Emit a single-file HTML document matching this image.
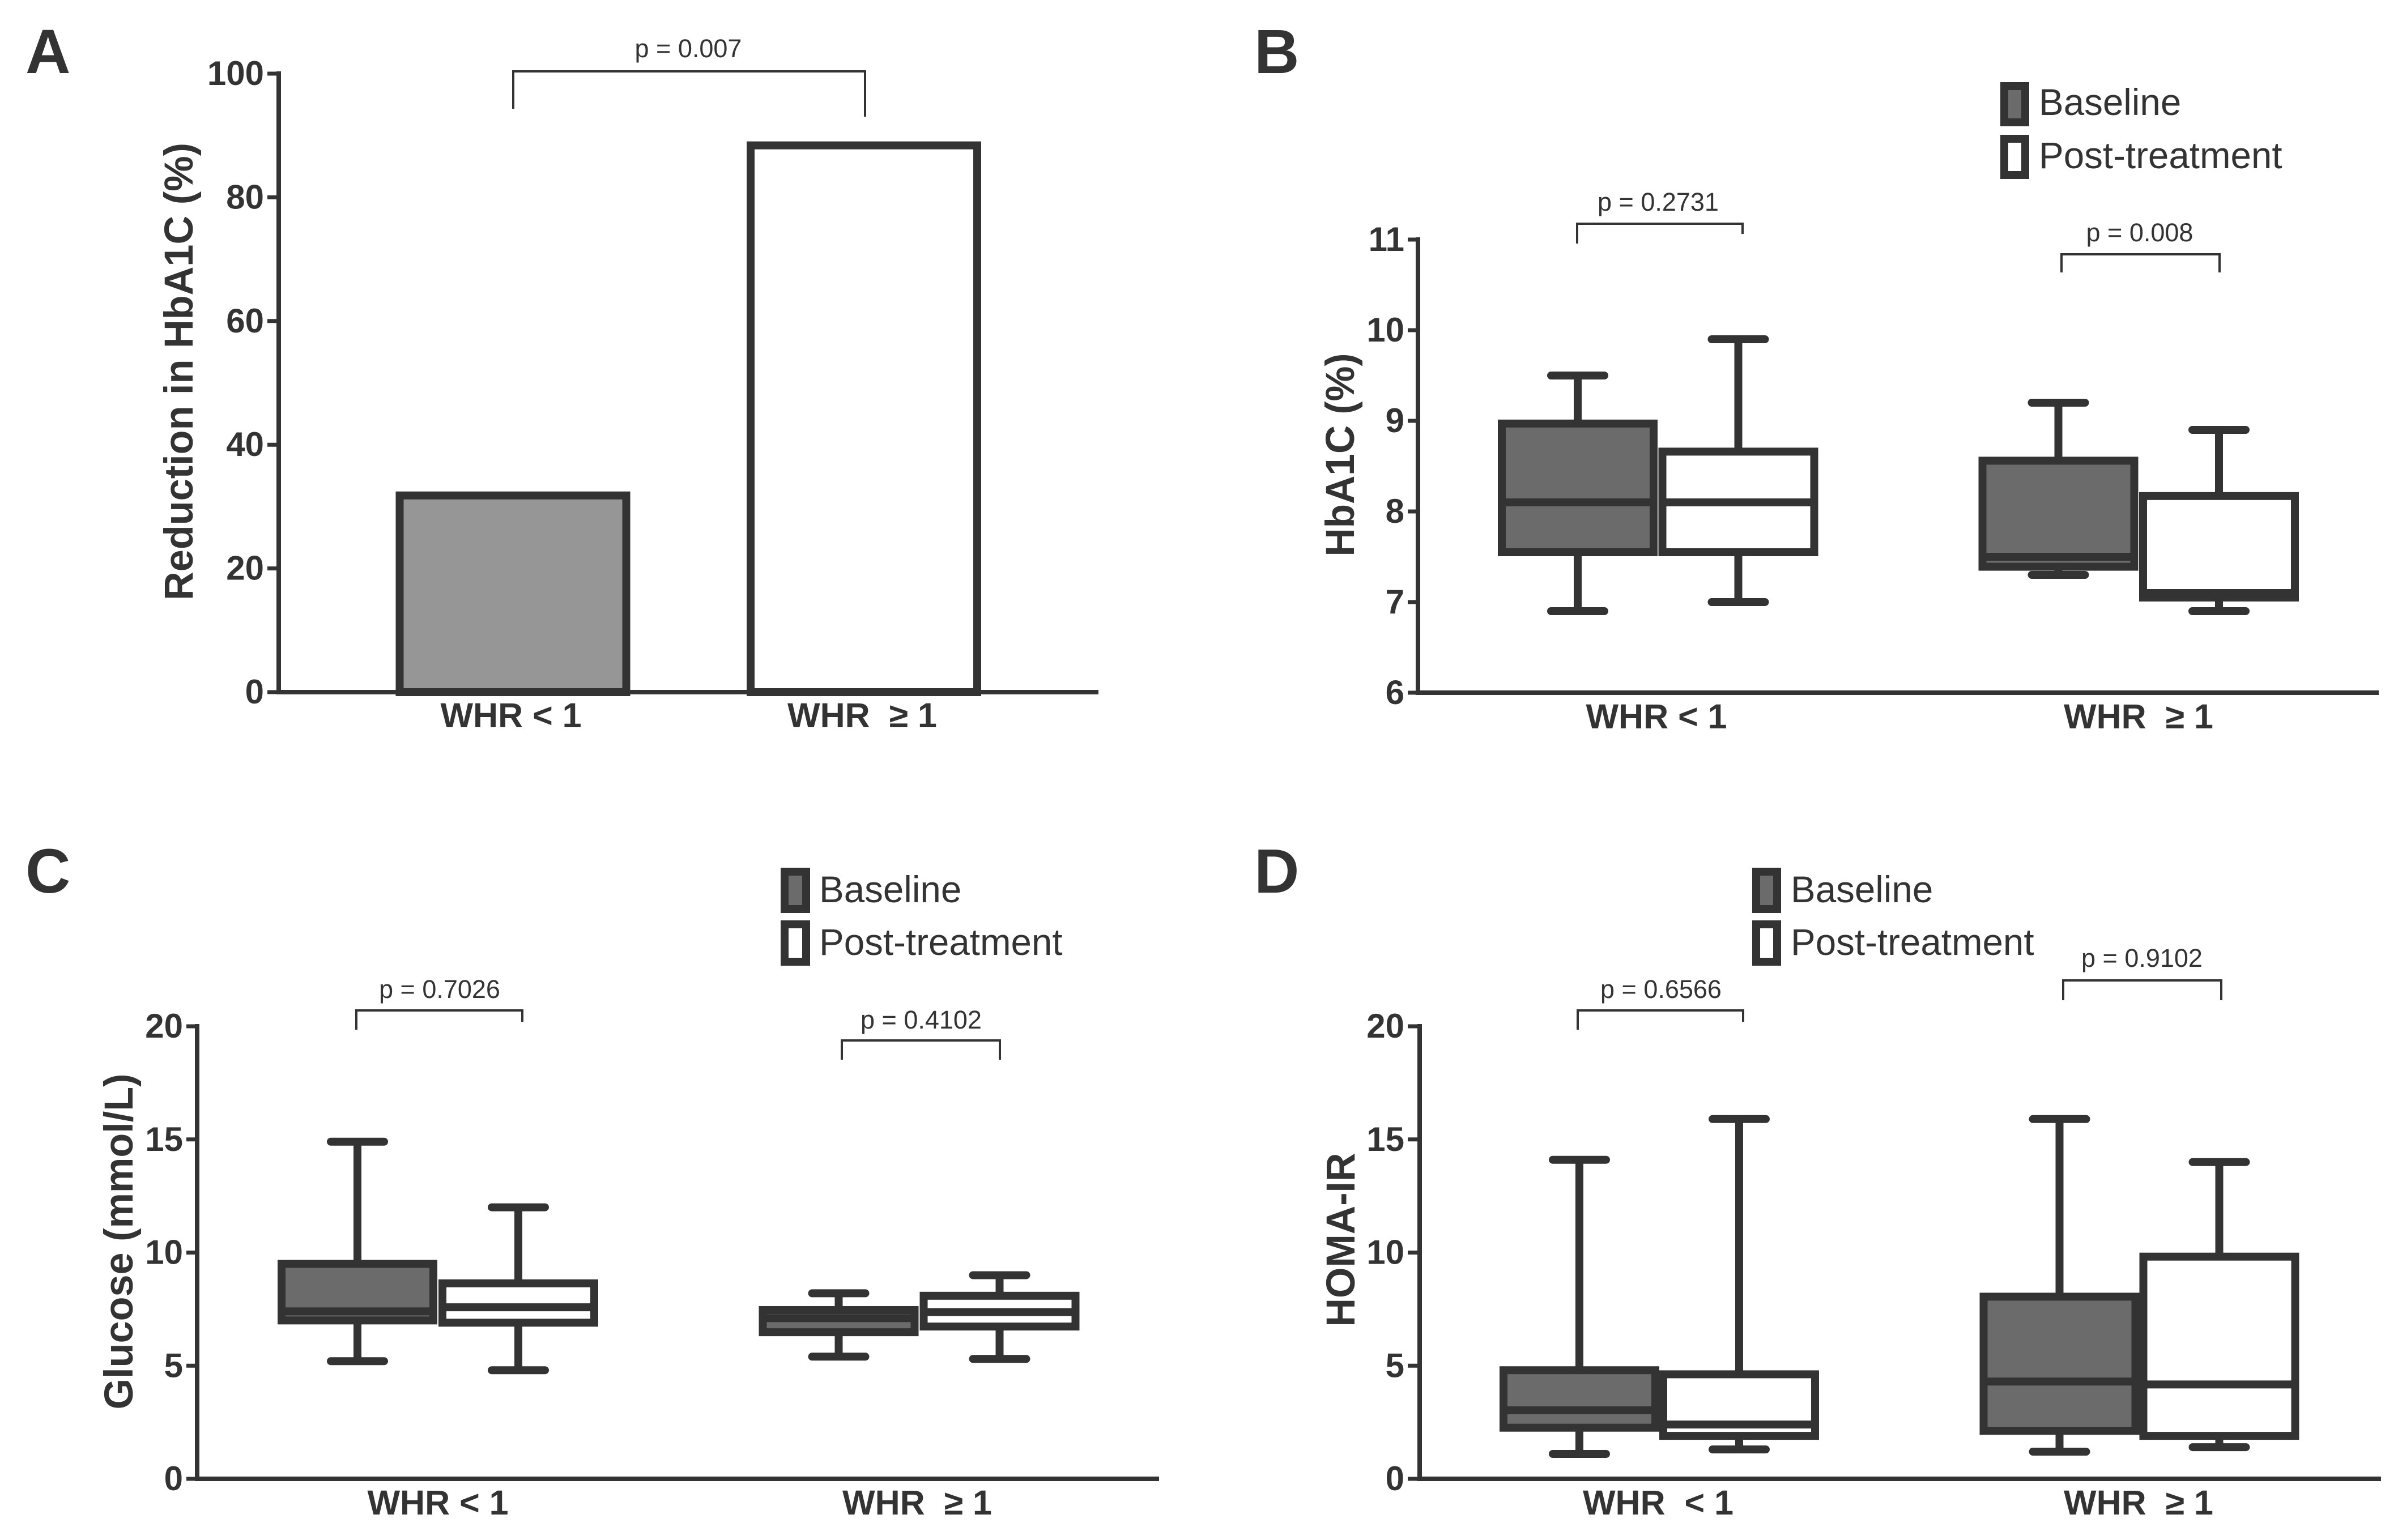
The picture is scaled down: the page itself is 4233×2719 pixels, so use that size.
<!DOCTYPE html>
<html lang="en">
<head>
<meta charset="utf-8">
<title>HbA1C, glucose and HOMA-IR by waist-hip ratio</title>
<style>
html,body{margin:0;padding:0;background:#fff;}
svg{display:block;}
text{font-family:"Liberation Sans",Arial,sans-serif;fill:#333;}
.letter{font-size:110px;font-weight:bold;}
.ytitle{font-size:71px;font-weight:bold;}
.tick{font-size:60px;font-weight:bold;text-anchor:end;}
.cat{font-size:61px;font-weight:bold;text-anchor:middle;white-space:pre;}
.p{font-size:45px;text-anchor:middle;}
.leg{font-size:65.5px;}
</style>
</head>
<body>
<svg id="figure" xmlns="http://www.w3.org/2000/svg" width="4233" height="2719" viewBox="0 0 4233 2719">
<rect x="0" y="0" width="4233" height="2719" fill="#fff"/>

<text class="letter" x="45" y="129">A</text>
<text class="letter" x="2214" y="129">B</text>
<text class="letter" x="45" y="1576">C</text>
<text class="letter" x="2214" y="1576">D</text>

<text class="ytitle" transform="translate(340 656) rotate(-90)" text-anchor="middle" textLength="808" lengthAdjust="spacingAndGlyphs">Reduction in HbA1C (%)</text>
<text class="ytitle" transform="translate(2390 803) rotate(-90)" text-anchor="middle" textLength="359" lengthAdjust="spacingAndGlyphs">HbA1C (%)</text>
<text class="ytitle" transform="translate(234 2192) rotate(-90)" text-anchor="middle" textLength="593" lengthAdjust="spacingAndGlyphs">Glucose (mmol/L)</text>
<text class="ytitle" transform="translate(2391 2189) rotate(-90)" text-anchor="middle" textLength="307" lengthAdjust="spacingAndGlyphs">HOMA-IR</text>

<g fill="none" stroke="#333" stroke-width="4">
<path d="M906 192V126H1527V206"/>
<path d="M2784 430V395H3076V413"/>
<path d="M3639 481V449H3918V481"/>
<path d="M629 1818V1784H922V1804"/>
<path d="M1486 1871V1837H1765V1871"/>
<path d="M2785 1818V1784H3077V1804"/>
<path d="M3642 1766V1731H3921V1766"/>
</g>
<text class="p" x="1215" y="101">p = 0.007</text>
<text class="p" x="2927" y="372">p = 0.2731</text>
<text class="p" x="3777" y="426">p = 0.008</text>
<text class="p" x="776" y="1762">p = 0.7026</text>
<text class="p" x="1626" y="1816">p = 0.4102</text>
<text class="p" x="2932" y="1762">p = 0.6566</text>
<text class="p" x="3781" y="1707">p = 0.9102</text>

<g>
<rect x="3538" y="152" width="37" height="64" fill="#6b6b6b" stroke="#333" stroke-width="14"/>
<text class="leg" x="3599" y="203">Baseline</text>
<rect x="3538" y="245" width="37" height="64" fill="#fff" stroke="#333" stroke-width="14"/>
<text class="leg" x="3599" y="297">Post-treatment</text>
</g>
<g>
<rect x="1385" y="1539" width="38" height="66" fill="#6b6b6b" stroke="#333" stroke-width="14"/>
<text class="leg" x="1446" y="1593">Baseline</text>
<rect x="1385" y="1632" width="38" height="66" fill="#fff" stroke="#333" stroke-width="14"/>
<text class="leg" x="1446" y="1686">Post-treatment</text>
</g>
<g>
<rect x="3100" y="1539" width="37" height="66" fill="#6b6b6b" stroke="#333" stroke-width="14"/>
<text class="leg" x="3161" y="1593">Baseline</text>
<rect x="3100" y="1632" width="37" height="66" fill="#fff" stroke="#333" stroke-width="14"/>
<text class="leg" x="3161" y="1686">Post-treatment</text>
</g>
</svg>

<script>
// Panel A data
const aCategories = ['WHR < 1', 'WHR  \u2265 1'];
const aReduction = [31.8, 88.4];
const aTicks = [0, 20, 40, 60, 80, 100];

// Box-plot stats are [whisker low, Q1, median, Q3, whisker high]
const bTicks = [6, 7, 8, 9, 10, 11];
const bLowBaseline = [6.9, 7.55, 8.1, 8.97, 9.5];
const bLowPost = [7.0, 7.55, 8.1, 8.66, 9.9];
const bHighBaseline = [7.3, 7.39, 7.5, 8.56, 9.2];
const bHighPost = [6.9, 7.05, 7.1, 8.17, 8.9];

const cTicks = [0, 5, 10, 15, 20];
const cLowBaseline = [5.2, 7.0, 7.4, 9.5, 14.9];
const cLowPost = [4.8, 6.9, 7.58, 8.64, 12.0];
const cHighBaseline = [5.4, 6.48, 7.1, 7.46, 8.2];
const cHighPost = [5.3, 6.73, 7.37, 8.09, 9.0];

const dTicks = [0, 5, 10, 15, 20];
const dLowBaseline = [1.1, 2.26, 3.03, 4.8, 14.1];
const dLowPost = [1.3, 1.9, 2.4, 4.62, 15.9];
const dHighBaseline = [1.2, 2.12, 4.3, 8.05, 15.9];
const dHighPost = [1.4, 1.9, 4.17, 9.82, 14.0];

const SVGNS = 'http://www.w3.org/2000/svg';
const INK = '#333';
const figure = document.getElementById('figure');

function mk(parent, tag, attrs, txt) {
  const el = document.createElementNS(SVGNS, tag);
  for (const k in attrs) el.setAttribute(k, attrs[k]);
  if (txt !== undefined) el.textContent = txt;
  parent.appendChild(el);
  return el;
}

function linearY(min, max, yMin, yMax) {
  return function (v) { return yMin + (v - min) * (yMax - yMin) / (max - min); };
}

function drawAxes(g, y, ticks, axisX, axisEnd, baseY, topY, tickLeft) {
  const yAxis = mk(g, 'line', {x1: axisX, x2: axisX, y1: topY - 4, y2: baseY + 4, stroke: INK, 'stroke-width': 8});
  
  
  const xAxis = mk(g, 'line', {x1: axisX, x2: axisEnd, y1: baseY, y2: baseY, stroke: INK, 'stroke-width': 8});
  
  
  ticks.forEach(function (t) {
    const mark = mk(g, 'line', {x1: tickLeft, x2: axisX, y1: y(t), y2: y(t), stroke: INK, 'stroke-width': 7});
    
    
    const label = mk(g, 'text', {'class': 'tick', x: tickLeft - 6, y: y(t) + 20}, String(t));
    
    
  });
}

function drawCategory(g, text, x, yPos) {
  const label = mk(g, 'text', {'class': 'cat', x: x, y: yPos, 'xml:space': 'preserve'}, text);
  
  
}

function drawBox(g, y, stats, cx, fill, name) {
  const boxW = 268, capW = 94, sw = 14;
  const box = mk(g, 'g', {});
  
  
  const whisker = mk(box, 'line', {x1: cx, x2: cx, y1: y(stats[0]), y2: y(stats[4]), stroke: INK, 'stroke-width': sw});
  
  
  [stats[0], stats[4]].forEach(function (v) {
    const cap = mk(box, 'line', {x1: cx - capW / 2, x2: cx + capW / 2, y1: y(v), y2: y(v), stroke: INK, 'stroke-width': sw, 'stroke-linecap': 'round'});
    
    
  });
  const body = mk(box, 'rect', {x: cx - boxW / 2, y: y(stats[3]), width: boxW, height: y(stats[1]) - y(stats[3]), fill: fill, stroke: INK, 'stroke-width': sw});
  
  
  const med = mk(box, 'line', {x1: cx - boxW / 2, x2: cx + boxW / 2, y1: y(stats[2]), y2: y(stats[2]), stroke: INK, 'stroke-width': sw});
  
  
}

function drawBoxPanel(name, cfg, ticks, lowB, lowP, highB, highP) {
  const g = mk(figure, 'g', {});
  
  
  const y = linearY(ticks[0], ticks[ticks.length - 1], cfg.base, cfg.top);
  drawBox(g, y, lowB, cfg.x0, '#6b6b6b', 'box-whr-low-baseline');
  drawBox(g, y, lowP, cfg.x0 + cfg.sStep, '#fff', 'box-whr-low-post-treatment');
  drawBox(g, y, highB, cfg.x0 + cfg.gStep, '#6b6b6b', 'box-whr-high-baseline');
  drawBox(g, y, highP, cfg.x0 + cfg.gStep + cfg.sStep, '#fff', 'box-whr-high-post-treatment');
  drawAxes(g, y, ticks, cfg.axisX, cfg.axisEnd, cfg.base, cfg.top, cfg.tickLeft);
  drawCategory(g, cfg.lowLabel, cfg.labelLow, cfg.labelY);
  drawCategory(g, aCategories[1], cfg.labelHigh, cfg.labelY);
}

// Panel A: bar chart
(function () {
  const g = mk(figure, 'g', {});
  
  
  const y = linearY(0, 100, 1222, 130);
  const barCentres = [905.5, 1525];
  const barFills = ['#969696', '#fff'];
  aReduction.forEach(function (v, i) {
    const bar = mk(g, 'rect', {x: barCentres[i] - 200, y: y(v), width: 400, height: y(0) - y(v), fill: barFills[i], stroke: INK, 'stroke-width': 14});
    
    
    drawCategory(g, aCategories[i], i === 0 ? 902 : 1522, 1284);
  });
  drawAxes(g, y, aTicks, 492, 1939, 1222, 130, 472);
})();

drawBoxPanel('panel-b', {x0: 2785, sStep: 283.5, gStep: 848.5, base: 1223, top: 423, axisX: 2503, axisEnd: 4199, tickLeft: 2485, labelLow: 2924, labelHigh: 3775, labelY: 1286, lowLabel: aCategories[0]}, bTicks, bLowBaseline, bLowPost, bHighBaseline, bHighPost);
drawBoxPanel('panel-c', {x0: 631, sStep: 284, gStep: 849.5, base: 2611, top: 1812, axisX: 348, axisEnd: 2046, tickLeft: 329, labelLow: 773, labelHigh: 1619, labelY: 2674, lowLabel: aCategories[0]}, cTicks, cLowBaseline, cLowPost, cHighBaseline, cHighPost);
drawBoxPanel('panel-d', {x0: 2788, sStep: 282, gStep: 847.5, base: 2611, top: 1812, axisX: 2506, axisEnd: 4203, tickLeft: 2485, labelLow: 2927, labelHigh: 3775, labelY: 2674, lowLabel: 'WHR  < 1'}, dTicks, dLowBaseline, dLowPost, dHighBaseline, dHighPost);
</script>
</body>
</html>
